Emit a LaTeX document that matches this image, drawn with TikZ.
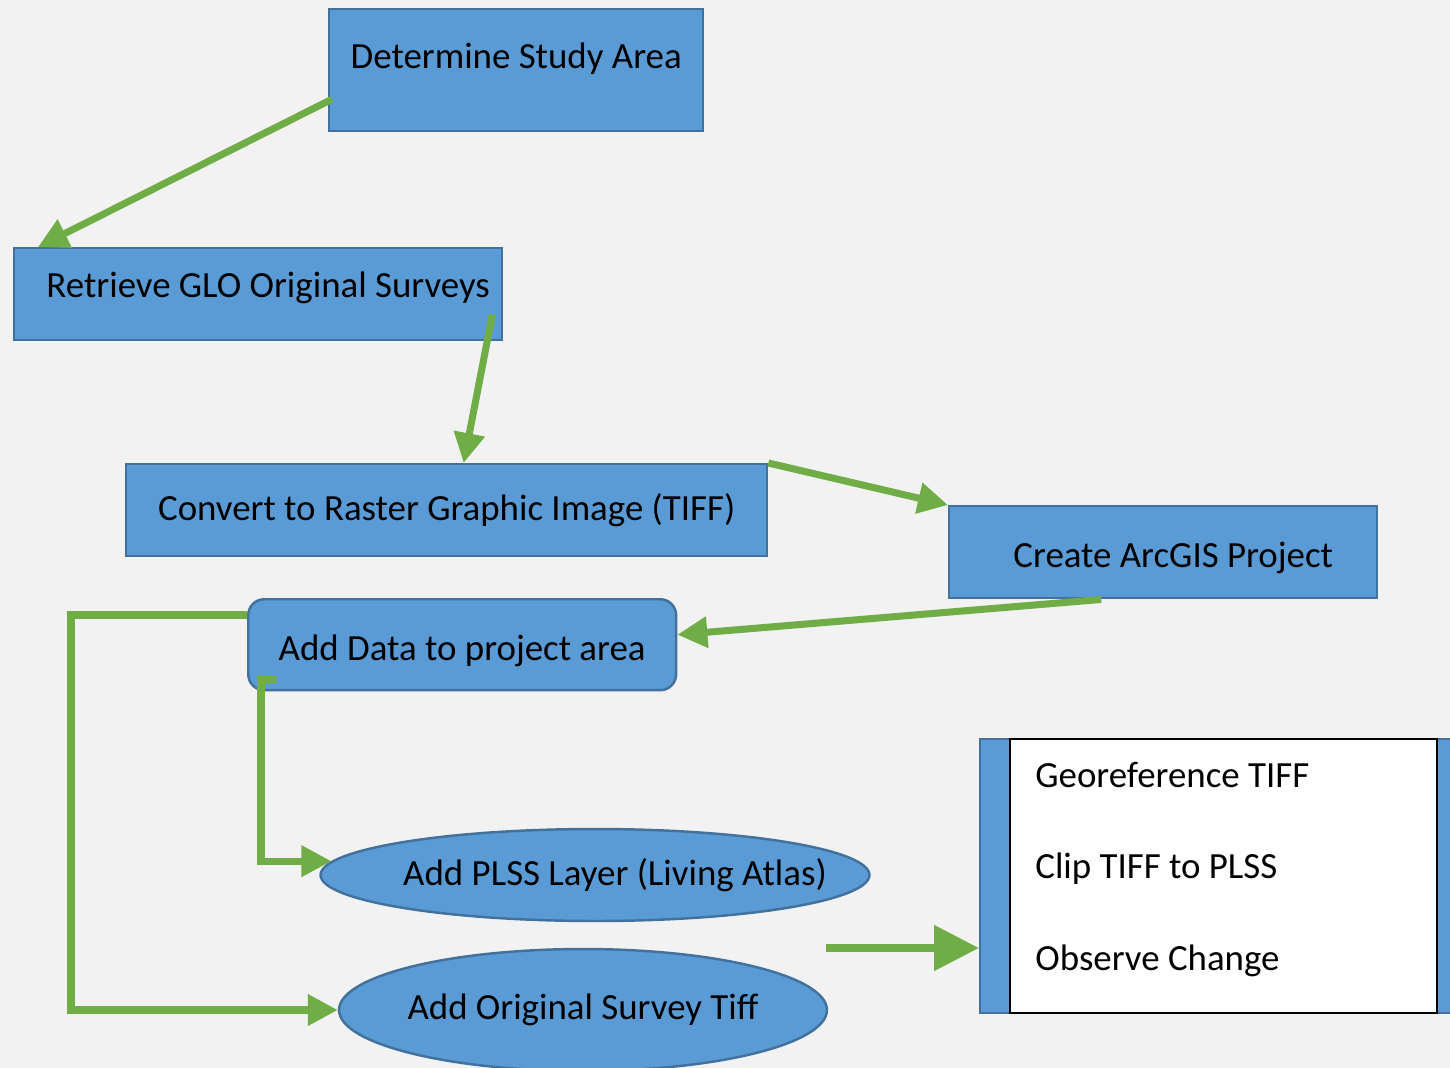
\documentclass[tikz,border=0pt]{standalone}
\usepackage{fontspec}
\setmainfont{Carlito}
\usetikzlibrary{arrows.meta,calc,shapes.geometric}
\definecolor{boxblue}{HTML}{5B9BD5}
\definecolor{boxedge}{HTML}{41719C}
\definecolor{flowgreen}{HTML}{70AD47}
\definecolor{paper}{HTML}{F2F2F2}

\begin{document}
\begin{tikzpicture}[x=0.02cm, y=-0.02cm,
    every node/.style={font=\fontsize{21}{25}\selectfont},
    box/.style={draw=boxedge, fill=boxblue, line width=1.4pt, inner sep=0pt, anchor=north west},
    oval/.style={draw=boxedge, fill=boxblue, line width=1.4pt, ellipse},
    item/.style={anchor=base west, inner sep=0pt},
    flow/.style={draw=flowgreen, line width=4pt, -{Triangle[length=0.6cm,width=0.6cm]}}]

    \path[use as bounding box, fill=paper] (0,0) rectangle (1450,1068);

    % boxes
    \node[box, text depth=0.6cm, minimum width=7.48cm, minimum height=2.44cm] (study) at (328,8) {Determine Study Area};
    \node[box, text depth=0.39cm, minimum width=9.76cm, minimum height=1.84cm] (glo) at (13,247) {\hspace*{0.4cm}Retrieve GLO Original Surveys};
    \node[box, minimum width=12.82cm, minimum height=1.84cm] (tiff) at (125,463) {Convert to Raster Graphic Image (TIFF)};
    \node[box, text height=0.72cm, minimum width=8.56cm, minimum height=1.84cm] (arcgis) at (948,505) {\hspace*{0.4cm}Create ArcGIS Project};
    \node[box, text height=0.76cm, rounded corners=0.32cm, minimum width=8.56cm, minimum height=1.82cm] (data) at (247,598) {Add Data to project area};

    % ovals
    \node[oval, inner xsep=-0.9cm, minimum width=10.98cm, minimum height=1.84cm] (plss) at (595,875) {\hspace*{0.8cm}Add PLSS Layer (Living Atlas)};
    \node[oval, inner xsep=-0.3cm, minimum width=9.76cm, minimum height=2.44cm] (survey) at (583,1010) {Add Original Survey Tiff};

    % list of steps
    \node[box, minimum width=9.42cm, minimum height=5.48cm] (list) at (979,738) {};
    \node[box, draw=black, fill=white, line width=1pt, minimum width=8.54cm, minimum height=5.48cm] (steps) at (1009,738) {};
    \node[item] (geo) at (1035,787) {Georeference TIFF};
    \node[item] (clip) at (1035,878) {Clip TIFF to PLSS};
    \node[item] (obs) at (1035,970) {Observe Change};

    % arrows between boxes
    \draw[flow] ($(study.west)+(4,29)$) -- ($(glo.north west)+(25,0)$);
    \draw[flow] ($(glo.south east)+(-11,-27)$) -- ($(tiff.north)+(17,0)$);
    \draw[flow] (tiff.north east) -- (arcgis.north west);
    \draw[flow] ($(arcgis.south)+(-62,0)$) -- ($(data.east)+(0,-10)$);

    % elbow arrows
    \draw[flow] ($(data.north west)+(0,17)$) -- ++(-176,0) |- (survey.west);
    \draw[flow] ($(data.south west)+(30,-12)$) -- ++(-16,0) |- (plss.177);

    % arrow into the list
    \coordinate (from) at (826,948);
    \draw[flow, line width=4.6pt, -{Triangle[length=0.9cm,width=0.88cm]}] (from) -- (from -| list.west);
\end{tikzpicture}
\end{document}
